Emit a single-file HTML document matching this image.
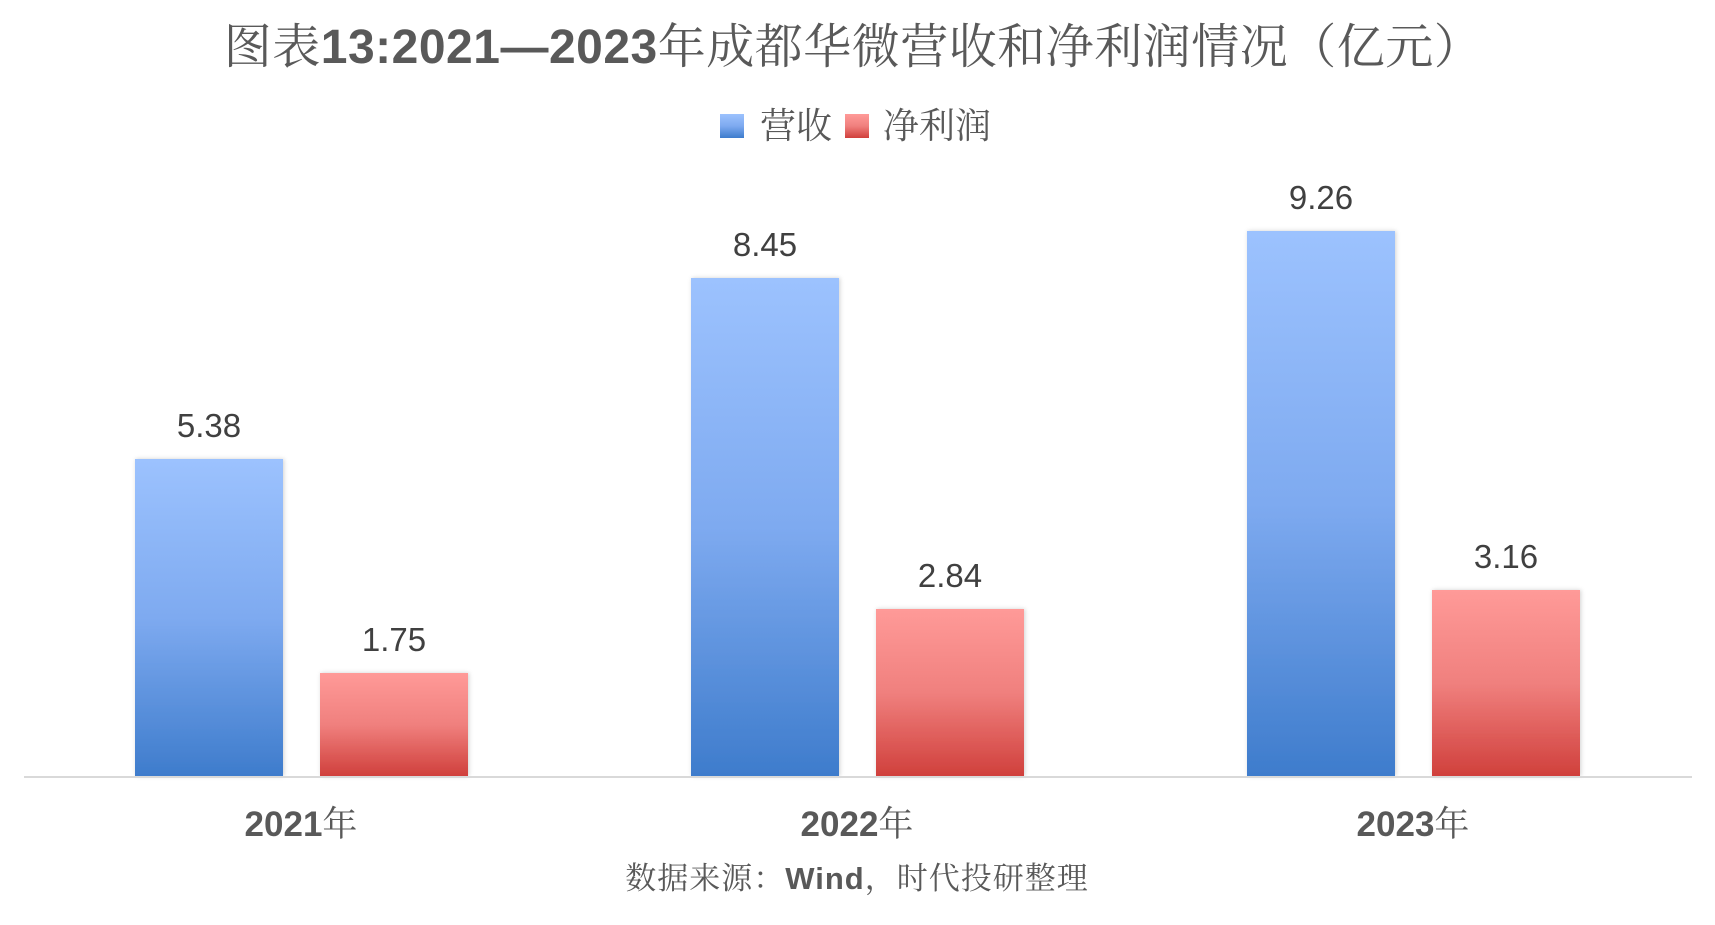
<!DOCTYPE html>
<html><head><meta charset="utf-8"><style>
html,body{margin:0;padding:0;background:#fff;}
svg{display:block;}
.cjk{font-family:"Liberation Sans","Noto Serif CJK SC",serif;}
.num{font-family:"Liberation Sans","Noto Sans CJK SC",sans-serif;}
</style></head><body>
<svg width="1715" height="925" viewBox="0 0 1715 925" xmlns="http://www.w3.org/2000/svg">
<defs>
<linearGradient id="gb" x1="0" y1="0" x2="0" y2="1"><stop offset="0" stop-color="#9cc2fe"/><stop offset="0.5" stop-color="#7eaaf0"/><stop offset="1" stop-color="#3e7ccc"/></linearGradient>
<linearGradient id="gr" x1="0" y1="0" x2="0" y2="1"><stop offset="0" stop-color="#ff9a98"/><stop offset="0.5" stop-color="#f0807e"/><stop offset="1" stop-color="#d0403c"/></linearGradient>
<filter id="sh" x="-10%" y="-10%" width="120%" height="120%"><feDropShadow dx="1" dy="0" stdDeviation="2" flood-color="#000" flood-opacity="0.18"/></filter>
</defs>
<text x="853" y="63" text-anchor="middle" font-size="48" letter-spacing="0.5" fill="#595959" class="cjk">图表<tspan font-weight="bold" font-family="Liberation Sans, sans-serif">13:2021—2023</tspan>年成都华微营收和净利润情况（亿元）</text>
<rect x="720" y="114" width="24" height="24" fill="url(#gb)"/>
<text x="760" y="138" font-size="36" fill="#595959" class="cjk">营收</text>
<rect x="845" y="114" width="24" height="24" fill="url(#gr)"/>
<text x="883" y="138" font-size="36" fill="#595959" class="cjk">净利润</text>
<g filter="url(#sh)">
<rect x="135" y="459" width="148" height="317" fill="url(#gb)"/>
<rect x="320" y="673" width="148" height="103" fill="url(#gr)"/>
<rect x="691" y="278" width="148" height="498" fill="url(#gb)"/>
<rect x="876" y="609" width="148" height="167" fill="url(#gr)"/>
<rect x="1247" y="231" width="148" height="545" fill="url(#gb)"/>
<rect x="1432" y="590" width="148" height="186" fill="url(#gr)"/>
</g>
<line x1="24" y1="777" x2="1692" y2="777" stroke="#d9d9d9" stroke-width="2"/>
<g font-size="33" fill="#404040" text-anchor="middle" class="num">
<text x="209" y="437">5.38</text>
<text x="394" y="651">1.75</text>
<text x="765" y="256">8.45</text>
<text x="950" y="587">2.84</text>
<text x="1321" y="209">9.26</text>
<text x="1506" y="568">3.16</text>
</g>
<g font-size="35" fill="#595959" text-anchor="middle" class="cjk">
<text x="301" y="836"><tspan font-weight="bold" font-family="Liberation Sans, sans-serif">2021</tspan>年</text>
<text x="857" y="836"><tspan font-weight="bold" font-family="Liberation Sans, sans-serif">2022</tspan>年</text>
<text x="1413" y="836"><tspan font-weight="bold" font-family="Liberation Sans, sans-serif">2023</tspan>年</text>
</g>
<text x="857" y="889" text-anchor="middle" font-size="31" letter-spacing="1" fill="#595959" class="cjk">数据来源：<tspan font-weight="bold" font-family="Liberation Sans, sans-serif">Wind</tspan>，时代投研整理</text>
</svg>
</body></html>
